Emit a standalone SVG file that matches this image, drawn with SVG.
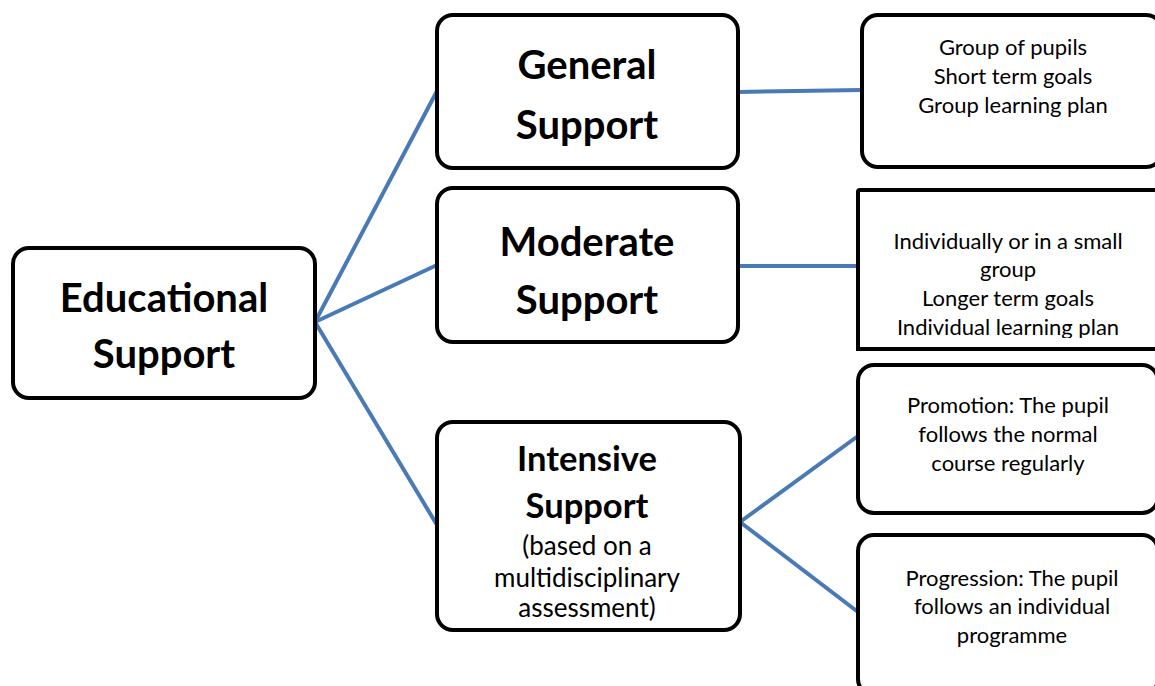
<svg xmlns="http://www.w3.org/2000/svg" width="1155" height="686" viewBox="0 0 1155 686">
<style>
.box{fill:#fff;stroke:#000;stroke-width:4}
.conn{stroke:#4a7ab5;stroke-width:4;fill:none}
.big{font-family:Lato,"Liberation Sans",sans-serif;font-weight:bold;font-size:40px;text-anchor:middle;fill:#000}
.mid{font-family:Lato,"Liberation Sans",sans-serif;font-weight:bold;font-size:34.5px;text-anchor:middle;fill:#000}
.sm{font-family:Lato,"Liberation Sans",sans-serif;font-size:26px;text-anchor:middle;fill:#000}
.xs{font-family:Lato,"Liberation Sans",sans-serif;font-size:22px;text-anchor:middle;fill:#000}
</style>
<rect width="1155" height="686" fill="#fff"/>
<g id="connectors">
<line class="conn" x1="315" y1="322" x2="437" y2="91"/>
<line class="conn" x1="315" y1="322" x2="437" y2="265"/>
<line class="conn" x1="315" y1="322" x2="437" y2="525"/>
<line class="conn" x1="738" y1="92" x2="862" y2="90"/>
<line class="conn" x1="738" y1="266" x2="858" y2="266"/>
<line class="conn" x1="740" y1="522" x2="858" y2="436"/>
<line class="conn" x1="740" y1="522" x2="858" y2="612"/>
</g>
<g id="educational">
<rect class="box" x="13" y="248" width="302" height="150" rx="16"/>
<text class="big" x="164" y="312">Educational</text>
<text class="big" x="164" y="368">Support</text>
</g>
<g id="general">
<rect class="box" x="437" y="15" width="301" height="153" rx="16"/>
<text class="big" x="587" y="79">General</text>
<text class="big" x="587" y="139">Support</text>
</g>
<g id="moderate">
<rect class="box" x="437" y="188" width="301" height="154" rx="16"/>
<text class="big" x="587" y="256">Moderate</text>
<text class="big" x="587" y="314">Support</text>
</g>
<g id="intensive">
<rect class="box" x="437" y="422" width="303" height="208" rx="16"/>
<text class="mid" x="587" y="471">Intensive</text>
<text class="mid" x="587" y="518">Support</text>
<text class="sm" x="587" y="555">(based on a</text>
<text class="sm" x="587" y="587">multidisciplinary</text>
<text class="sm" x="587" y="617">assessment)</text>
</g>
<g id="group">
<rect class="box" x="862" y="15" width="300" height="152" rx="16"/>
<text class="xs" x="1013" y="55">Group of pupils</text>
<text class="xs" x="1013" y="84">Short term goals</text>
<text class="xs" x="1013" y="113">Group learning plan</text>
</g>
<g id="individual">
<rect class="box" x="858" y="190" width="300" height="159" rx="2"/>
<text class="xs" x="1008" y="249">Individually or in a small</text>
<text class="xs" x="1008" y="277">group</text>
<text class="xs" x="1008" y="306">Longer term goals</text>
<text class="xs" x="1008" y="335">Individual learning plan</text>
<rect x="861" y="338" width="296" height="12" fill="#fff"/>
<line x1="856" y1="349" x2="1155" y2="349" stroke="#000" stroke-width="4"/>
</g>
<g id="promotion">
<rect class="box" x="858" y="365" width="300" height="148" rx="16"/>
<text class="xs" x="1008" y="413">Promotion: The pupil</text>
<text class="xs" x="1008" y="442">follows the normal</text>
<text class="xs" x="1008" y="471">course regularly</text>
</g>
<g id="progression">
<rect class="box" x="858" y="535" width="300" height="160" rx="16"/>
<text class="xs" x="1012" y="586">Progression: The pupil</text>
<text class="xs" x="1012" y="614">follows an individual</text>
<text class="xs" x="1012" y="643">programme</text>
</g>
</svg>
